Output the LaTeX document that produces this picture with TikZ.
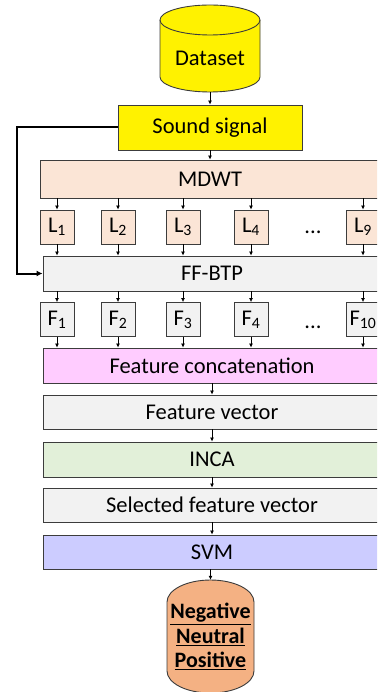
\documentclass[tikz,border=0pt]{standalone}
\usepackage{fontspec}
\setmainfont{Carlito}
\usetikzlibrary{arrows.meta, positioning}
\definecolor{peach}{RGB}{251,229,214}
\definecolor{lightgrey}{RGB}{242,242,242}
\definecolor{pinkbox}{RGB}{255,204,255}
\definecolor{greenbox}{RGB}{226,240,217}
\definecolor{lavender}{RGB}{204,204,255}
\definecolor{orangebox}{RGB}{244,177,131}
\definecolor{edgegrey}{RGB}{60,60,60}
\tikzset{
  wide/.style={draw=edgegrey, line width=0.9pt, minimum width=338pt, minimum height=35pt, inner sep=0pt, font=\fontsize{22.5}{26}\selectfont},
  small/.style={draw=edgegrey, line width=0.9pt, minimum width=34pt, minimum height=34pt, inner sep=0pt, font=\fontsize{22.5}{26}\selectfont},
  link/.style={-{Latex[length=4pt,width=4pt]}, line width=0.7pt},
}

\begin{document}
\begin{tikzpicture}[x=1pt, y=-1pt]

\useasboundingbox (0,0) rectangle (377,692);
\clip (0,0) rectangle (377,692);

% cylinders
\draw[fill=yellow, draw=edgegrey, line width=0.9pt] (160,20) -- (160,77) arc[start angle=180, end angle=360, x radius=50pt, y radius=15pt] -- (260,20) arc[start angle=0, end angle=180, x radius=50pt, y radius=15pt] -- cycle;
\draw[draw=edgegrey, line width=0.9pt] (160,20) arc[start angle=180, end angle=360, x radius=50pt, y radius=15pt];
\draw[fill=orangebox, draw=edgegrey, line width=0.9pt] (167,602) arc[start angle=180, end angle=0, x radius=43.5pt, y radius=22pt] -- (254,671) arc[start angle=0, end angle=-180, x radius=43.5pt, y radius=22pt] -- cycle;

\node[minimum width=100pt, minimum height=87pt, inner sep=0pt] (data) at (210,48.5) {};
\node[font=\fontsize{22.5}{26}\selectfont] (datatxt) at (210,58) {Dataset};
\node[draw=edgegrey, line width=0.9pt, fill=yellow, minimum width=184pt, minimum height=45pt, font=\fontsize{22.5}{26}\selectfont] (snd) at (210,127.5) {Sound signal};

\node[wide, fill=peach, minimum width=340pt, minimum height=38pt] (mdwt) at (210,179) {MDWT};
\node[wide, fill=lightgrey] (ff) at (212,273.5) {FF-BTP};
\node[wide, fill=pinkbox] (cat) at (212,365.5) {Feature concatenation};
\node[wide, fill=lightgrey, minimum height=34pt] (fv) at (212,412) {Feature vector};
\node[wide, fill=greenbox] (inca) at (212,459.5) {INCA};
\node[wide, fill=lightgrey, minimum height=34pt] (sel) at (212,505) {Selected feature vector};
\node[wide, fill=lavender, minimum height=34pt] (svm) at (212,552) {SVM};

\node[minimum width=87pt, minimum height=113pt, inner sep=0pt, align=center, font=\bfseries\fontsize{22}{24.5}\selectfont] (out) at (210.5,636.5) {\underline{Negative}\\\underline{Neutral}\\\underline{Positive}};

% level and feature boxes
\foreach \i/\x in {1/57,2/118,3/183,4/251}{
  \node[small, fill=peach] (l\i) at (\x,227) {L\textsubscript{\i}};
  \node[small, fill=lightgrey] (f\i) at (\x,319.5) {F\textsubscript{\i}};
}
\node[small, fill=peach] (l9) at (363,227) {L\textsubscript{9}};
\node[small, fill=lightgrey] (f10) at (363,319.5) {F\textsubscript{10}};
\node[font=\fontsize{22.5}{26}\selectfont] (dotsl) at (313,232) {...};
\node[font=\fontsize{22.5}{26}\selectfont] (dotsf) at (313,327) {...};

% connectors
\draw[link] (data) -- (snd);
\draw[link] (snd) -- (mdwt);
\foreach \n/\m in {l1/f1,l2/f2,l3/f3,l4/f4,l9/f10}{
  \draw[link] (mdwt.south -| \n) -- (\n);
  \draw[link] (\n) -- (ff.north -| \n);
  \draw[link] (ff.south -| \m) -- (\m);
  \draw[link] (\m) -- (cat.north -| \m);
}
\draw[link] (cat) -- (fv);
\draw[link] (fv) -- (inca);
\draw[link] (inca) -- (sel);
\draw[link] (sel) -- (svm);
\draw[link] (svm.south -| out) -- (out);

\coordinate (fb) at (17,127.5);
\draw[line width=2pt, -{Latex[length=6pt,width=6pt]}] (snd.west) -- (fb) |- (ff.west);

\end{tikzpicture}
\end{document}
